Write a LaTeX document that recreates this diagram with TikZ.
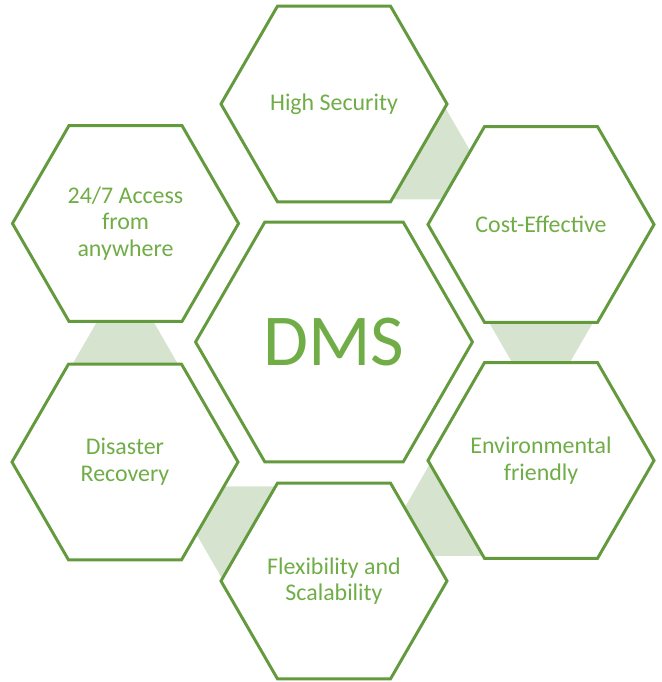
\documentclass[tikz,border=0pt]{standalone}
\usepackage{fontspec}
\setmainfont{Carlito}
\usetikzlibrary{shapes.geometric,calc}

\definecolor{hexline}{RGB}{100,154,62}
\definecolor{hextext}{RGB}{112,173,71}
\definecolor{hexshade}{RGB}{214,227,207}

\tikzset{
  hexbox/.style={regular polygon, regular polygon sides=6, minimum size=5.65cm,
    inner sep=0pt, draw=hexline, line width=2.1pt, fill=white},
  hubbox/.style={hexbox, minimum size=6.92cm},
  hexlabel/.style={text=hextext, align=center, inner sep=0pt,
    font=\fontsize{17}{19}\selectfont},
  hublabel/.style={hexlabel, font=\fontsize{52}{56}\selectfont},
  gapshape/.style={regular polygon, regular polygon sides=3, minimum size=3.5cm,
    fill=hexshade, draw=none}
}

\begin{document}
\begin{tikzpicture}[x=0.025cm,y=0.025cm]
    \useasboundingbox (0,0) rectangle (662,682);
    % places of the hexagons
    \coordinate (phs) at (334,578);
    \coordinate (pce) at (541,457.5);
    \coordinate (pev) at (541,221.5);
    \coordinate (pfx) at (334,101);
    \coordinate (pdr) at (125,220);
    \coordinate (pac) at (125.5,458.5);
    % light triangles behind the gaps
    \node[gapshape, rotate=-120] (g1) at ($(phs)!0.5!(pce)$) {};
    \node[gapshape, rotate=180] (g2) at ($(pce)!0.5!(pev)$) {};
    \node[gapshape, rotate=120] (g3) at ($(pev)!0.5!(pfx)$) {};
    \node[gapshape, rotate=60] (g4) at ($(pfx)!0.5!(pdr)$) {};
    \node[gapshape] (g5) at ($(pdr)!0.5!(pac)$) {};
    % hexagons
    \node[hubbox] (dms) at (334,340) {};
    \node[hexbox] (hs) at (phs) {};
    \node[hexbox] (ce) at (pce) {};
    \node[hexbox] (ev) at (pev) {};
    \node[hexbox] (fx) at (pfx) {};
    \node[hexbox] (dr) at (pdr) {};
    \node[hexbox] (ac) at (pac) {};
    % texts
    \node[hublabel] (dmst) at (dms) {DMS};
    \node[hexlabel] (hst) at (hs) {High Security};
    \node[hexlabel] (cet) at (ce) {Cost-Effective};
    \node[hexlabel] (evt) at (ev) {Environmental\\friendly};
    \node[hexlabel] (fxt) at (fx) {Flexibility and\\Scalability};
    \node[hexlabel] (drt) at (dr) {Disaster\\Recovery};
    \node[hexlabel] (act) at (ac) {24/7 Access\\from\\anywhere};
\end{tikzpicture}
\end{document}
